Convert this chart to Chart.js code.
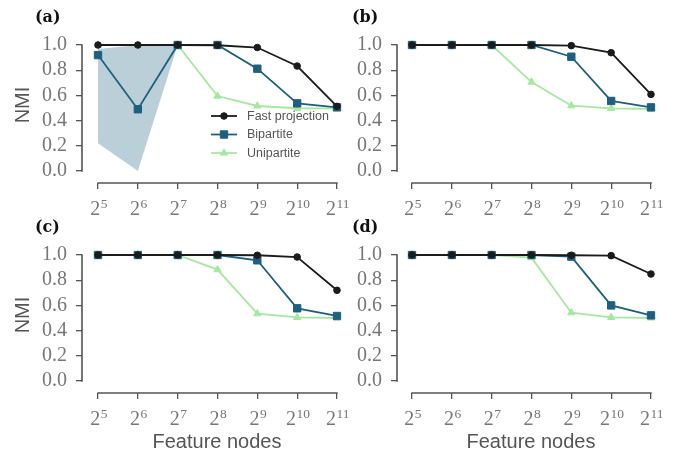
<!DOCTYPE html>
<html>
<head>
<meta charset="utf-8">
<script src="https://cdn.jsdelivr.net/npm/chart.js@4.4.1/dist/chart.umd.min.js"></script>
<style>
  html, body { margin: 0; padding: 0; background: #fff; }
  #wrap { position: relative; width: 684px; height: 457px; }
  #wrap canvas { position: absolute; left: 0; top: 0; }
</style>
</head>
<body>
<div id="wrap">
  <canvas id="panelA" width="684" height="457"></canvas>
  <canvas id="panelB" width="684" height="457"></canvas>
  <canvas id="panelC" width="684" height="457"></canvas>
  <canvas id="panelD" width="684" height="457"></canvas>
</div>
<script>
// x positions are powers of two: 2^5 ... 2^11
const exponents = [5, 6, 7, 8, 9, 10, 11];
const nmiTicks = [0, 0.2, 0.4, 0.6, 0.8, 1.0];
const seriesNames = ['Fast projection', 'Bipartite', 'Unipartite'];

// (a)
const fastA = [1.0, 1.0, 1.0, 0.998, 0.98, 0.833, 0.513];
const bipA = [0.92, 0.49, 1.0, 1.0, 0.812, 0.537, 0.505];
const uniA = [1.0, 1.0, 1.0, 0.595, 0.516, 0.498, 0.497];
const bandLowA = [0.22, 0.0, 1.0, null, null, null, null];
const bandHighA = [0.968, 1.0, 1.0, null, null, null, null];

// (b)
const fastB = [1.0, 1.0, 1.0, 1.0, 0.995, 0.939, 0.608];
const bipB = [1.0, 1.0, 1.0, 1.0, 0.907, 0.556, 0.505];
const uniB = [1.0, 1.0, 1.0, 0.706, 0.518, 0.497, 0.492];

// (c)
const fastC = [1.0, 1.0, 1.0, 1.0, 0.998, 0.984, 0.72];
const bipC = [1.0, 1.0, 1.0, 1.0, 0.958, 0.577, 0.516];
const uniC = [1.0, 1.0, 1.0, 0.884, 0.534, 0.505, 0.5];

// (d)
const fastD = [1.0, 1.0, 1.0, 1.0, 0.998, 0.995, 0.849];
const bipD = [1.0, 1.0, 1.0, 1.0, 0.987, 0.6, 0.521];
const uniD = [1.0, 1.0, 1.0, 0.979, 0.542, 0.505, 0.5];

const COL_FAST = '#1b1b1b';
const COL_BIP = '#1f5f7e';
const COL_UNI = '#a6e8a0';
const COL_BAND = 'rgba(31, 95, 126, 0.3)';
const COL_SPINE = '#555';
const SERIF = '"Liberation Serif", "Times New Roman", serif';
const SANS = '"Liberation Sans", Arial, sans-serif';

function pts(values) {
  return values.map((v, i) => ({ x: exponents[i], y: v }));
}

const styles = [
  { color: COL_FAST, pointStyle: 'circle', radius: 3.3 },
  { color: COL_BIP, pointStyle: 'rect', radius: 5.2 },
  { color: COL_UNI, pointStyle: 'triangle', radius: 4.2 }
];

// offset spines, 2^n tick labels with raised exponent, panel letter, legend
const decor = {
  id: 'decor',
  beforeDatasetsDraw(chart) {
    const { ctx, chartArea } = chart;
    const xs = chart.scales.x, ys = chart.scales.y;
    ctx.save();
    ctx.strokeStyle = COL_SPINE;
    ctx.lineWidth = 1.6;
    ctx.beginPath();
    ctx.moveTo(chartArea.left, ys.getPixelForValue(nmiTicks[0]) + 0.7);
    ctx.lineTo(chartArea.left, ys.getPixelForValue(nmiTicks[nmiTicks.length - 1]) - 0.7);
    ctx.moveTo(xs.getPixelForValue(exponents[0]) - 0.7, chartArea.bottom);
    ctx.lineTo(xs.getPixelForValue(exponents[exponents.length - 1]) + 0.7, chartArea.bottom);
    ctx.stroke();
    ctx.restore();
  },
  afterDraw(chart, args, opts) {
    const { ctx, chartArea } = chart;
    const xs = chart.scales.x;
    ctx.save();

    // x tick labels: "2" with a superscript exponent
    ctx.fillStyle = '#777';
    ctx.textBaseline = 'alphabetic';
    ctx.textAlign = 'left';
    const baseY = chartArea.bottom + 32;
    xs.ticks.forEach(t => {
      const px = xs.getPixelForValue(t.value);
      const exp = String(t.value);
      ctx.font = '20px ' + SERIF;
      const w1 = ctx.measureText('2').width;
      ctx.font = '13.5px ' + SERIF;
      const w2 = ctx.measureText(exp).width;
      const x0 = px - (w1 + w2) / 2 + 0.5;
      ctx.font = '20px ' + SERIF;
      ctx.fillText('2', x0, baseY);
      ctx.font = '13.5px ' + SERIF;
      ctx.fillText(exp, x0 + w1 + 0.5, baseY - 7.5);
    });

    ctx.fillStyle = '#111';
    ctx.font = 'bold 16px "DejaVu Serif", serif';
    ctx.textBaseline = 'middle';
    ctx.fillText(opts.label, opts.labelX, opts.labelY);

    if (opts.legend) {
      const lg = opts.legend;
      ctx.font = '12.5px ' + SANS;
      seriesNames.forEach((name, i) => {
        const st = styles[i];
        const yy = lg.y + i * lg.gap;
        ctx.strokeStyle = st.color;
        ctx.fillStyle = st.color;
        ctx.lineWidth = 1.8;
        ctx.beginPath();
        ctx.moveTo(lg.x, yy);
        ctx.lineTo(lg.x + 26, yy);
        ctx.stroke();
        ctx.lineWidth = 1;
        Chart.helpers.drawPoint(ctx, { pointStyle: st.pointStyle, radius: st.radius, rotation: 0, borderWidth: 1 }, lg.x + 13, yy);
        ctx.fillStyle = '#555';
        ctx.fillText(name, lg.x + 36, yy + 0.5);
      });
    }
    ctx.restore();
  }
};

function makePanel(id, fast, bip, uni, cfg) {
  const series = [fast, bip, uni];
  const datasets = series.map((vals, i) => ({
    label: seriesNames[i],
    data: pts(vals),
    borderColor: styles[i].color,
    backgroundColor: styles[i].color,
    pointBackgroundColor: styles[i].color,
    pointBorderColor: styles[i].color,
    pointStyle: styles[i].pointStyle,
    pointRadius: styles[i].radius,
    pointBorderWidth: 1,
    borderWidth: 1.8,
    tension: 0,
    fill: false,
    clip: false
  }));
  if (cfg.bandLow) {
    datasets.push({
      label: 'band high',
      data: pts(cfg.bandHigh),
      borderWidth: 0,
      pointRadius: 0,
      backgroundColor: COL_BAND,
      fill: '+1',
      clip: false
    });
    datasets.push({
      label: 'band low',
      data: pts(cfg.bandLow),
      borderWidth: 0,
      pointRadius: 0,
      fill: false,
      clip: false
    });
  }

  new Chart(document.getElementById(id), {
    type: 'line',
    data: { datasets },
    plugins: [decor],
    options: {
      responsive: false,
      animation: false,
      events: [],
      layout: { autoPadding: false, padding: cfg.padding },
      plugins: {
        legend: { display: false },
        tooltip: { enabled: false },
        decor: { label: cfg.label, labelX: cfg.labelX, labelY: cfg.labelY, legend: cfg.legend }
      },
      scales: {
        x: {
          type: 'linear',
          min: cfg.xMin,
          max: cfg.xMax,
          afterBuildTicks: s => { s.ticks = exponents.map(v => ({ value: v })); },
          afterFit: s => { s.height = cfg.xHeight; },
          border: { display: false },
          grid: { drawOnChartArea: false, drawTicks: true, tickLength: 6, color: COL_SPINE, lineWidth: 1.3 },
          ticks: { display: false, autoSkip: false },
          title: {
            display: cfg.xTitle,
            text: 'Feature nodes',
            color: '#555',
            font: { family: SANS, size: 20 },
            padding: { top: 0, bottom: 3 }
          }
        },
        y: {
          type: 'linear',
          min: -0.0952,
          max: 1.1429,
          afterBuildTicks: s => { s.ticks = nmiTicks.map(v => ({ value: v })); },
          afterFit: s => { s.width = 82; },
          border: { display: false },
          grid: { drawOnChartArea: false, drawTicks: true, tickLength: 6, color: COL_SPINE, lineWidth: 1.3 },
          ticks: {
            padding: 9,
            color: '#777',
            font: { family: SERIF, size: 20 },
            callback: v => v.toFixed(1)
          },
          title: {
            display: cfg.yTitle,
            text: 'NMI',
            color: '#555',
            font: { family: SANS, size: 20 },
            padding: { top: 11, bottom: 0 }
          }
        }
      }
    }
  });
}

const leftCol = { padLeft: 0, padRight: 332, xMin: 4.598, xMax: 11.377, labelX: 35 };
const rightCol = { padLeft: 315, padRight: 19, xMin: 4.623, xMax: 11.352, labelX: 352 };
const topRow = { padTop: 27, padBottom: 228, xHeight: 46, labelY: 17.5 };
const botRow = { padTop: 237, padBottom: 0, xHeight: 64, labelY: 227.5 };

function cell(col, row, extra) {
  return Object.assign({
    padding: { left: col.padLeft, right: col.padRight, top: row.padTop, bottom: row.padBottom },
    xMin: col.xMin, xMax: col.xMax, xHeight: row.xHeight,
    labelX: col.labelX, labelY: row.labelY,
    yTitle: col === leftCol, xTitle: row === botRow
  }, extra);
}

makePanel('panelA', fastA, bipA, uniA, cell(leftCol, topRow, {
  label: '(a)', bandLow: bandLowA, bandHigh: bandHighA,
  legend: { x: 211, y: 116, gap: 18.5 }
}));
makePanel('panelB', fastB, bipB, uniB, cell(rightCol, topRow, { label: '(b)' }));
makePanel('panelC', fastC, bipC, uniC, cell(leftCol, botRow, { label: '(c)' }));
makePanel('panelD', fastD, bipD, uniD, cell(rightCol, botRow, { label: '(d)' }));
</script>
</body>
</html>
